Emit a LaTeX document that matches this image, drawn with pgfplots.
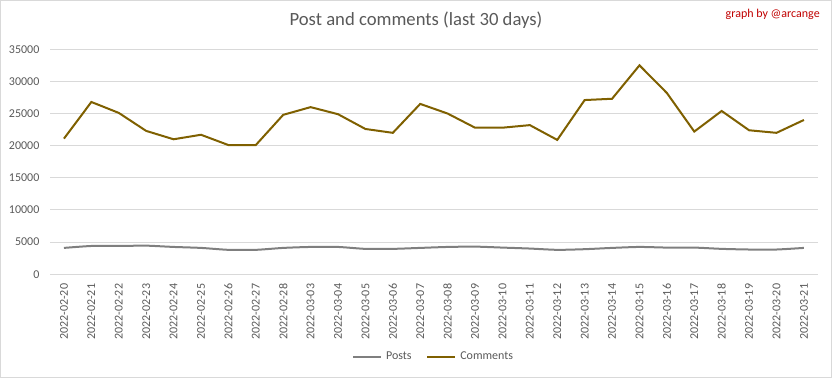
\documentclass[border=0pt]{standalone}
\usepackage{pgfplots}
\pgfplotsset{compat=1.18}
\usepackage{fontspec}
\setmainfont{Carlito}
\definecolor{cmt}{HTML}{7F6000}
\definecolor{pst}{HTML}{7F7F7F}
\definecolor{grd}{HTML}{D9D9D9}
\definecolor{txt}{HTML}{595959}
\definecolor{credit}{HTML}{C00000}
\begin{document}
\begin{tikzpicture}
\draw[grd, line width=0.75pt] (0.375pt,0.375pt) rectangle (623.625pt,283.125pt);
\node[txt, font=\fontsize{14}{16}\selectfont, anchor=center] at (312pt,268.5pt) {Post and comments (last 30 days)};
\node[credit, font=\fontsize{9}{11}\selectfont, anchor=east, inner sep=0pt] at (615pt,272.5pt) {graph by @arcange};
\begin{axis}[
  at={(37.7pt,77.8pt)}, anchor=south west,
  scale only axis, width=575.5pt, height=168.75pt,
  xmin=-0.5, xmax=27.5, ymin=0, ymax=35000,
  xtick={0,...,27},
  xticklabels={2022-02-20,2022-02-21,2022-02-22,2022-02-23,2022-02-24,2022-02-25,2022-02-26,2022-02-27,2022-02-28,2022-03-03,2022-03-04,2022-03-05,2022-03-06,2022-03-07,2022-03-08,2022-03-09,2022-03-10,2022-03-11,2022-03-12,2022-03-13,2022-03-14,2022-03-15,2022-03-16,2022-03-17,2022-03-18,2022-03-19,2022-03-20,2022-03-21},
  ytick={0,5000,...,35000},
  scaled y ticks=false,
  /pgf/number format/1000 sep={},
  /pgf/number format/assume math mode=true,
  axis line style={draw=none},
  major tick length=0pt,
  ymajorgrids, grid style={grd, line width=0.75pt},
  xticklabel style={rotate=90, anchor=east, inner sep=0pt, txt, font=\fontsize{9}{11}\selectfont},
  xticklabel shift=7pt,
  yticklabel style={anchor=east, inner sep=0pt, txt, font=\fontsize{9}{11}\selectfont},
  yticklabel shift=8pt,
  legend columns=2,
  legend style={at={(0.5,-0.368)}, anchor=center, draw=none, fill=none, font=\fontsize{9}{11}\selectfont, text=txt,
    /tikz/every odd column/.append style={column sep=1pt},
    /tikz/every even column/.append style={column sep=9pt}},
  legend image code/.code={\draw[#1] (0pt,0pt) -- (21pt,0pt);},
  clip=false,
]
\addplot[pst, line width=1.5pt, smooth, tension=0.4] coordinates {
(0,4100) (1,4400) (2,4400) (3,4450) (4,4250) (5,4100) (6,3800) (7,3800) (8,4100) (9,4250)
(10,4250) (11,3950) (12,3950) (13,4100) (14,4250) (15,4300) (16,4150) (17,4000) (18,3800) (19,3900)
(20,4100) (21,4250) (22,4150) (23,4150) (24,3950) (25,3850) (26,3850) (27,4100)};
\addlegendentry{Posts}
\addplot[cmt, line width=1.5pt] coordinates {
(0,21100) (1,26800) (2,25100) (3,22300) (4,21000) (5,21700) (6,20100) (7,20100) (8,24800) (9,26000)
(10,24900) (11,22600) (12,22000) (13,26500) (14,25000) (15,22800) (16,22800) (17,23200) (18,20900) (19,27100)
(20,27300) (21,32500) (22,28200) (23,22200) (24,25400) (25,22400) (26,22000) (27,24000)};
\addlegendentry{Comments}
\end{axis}
\end{tikzpicture}
\end{document}
